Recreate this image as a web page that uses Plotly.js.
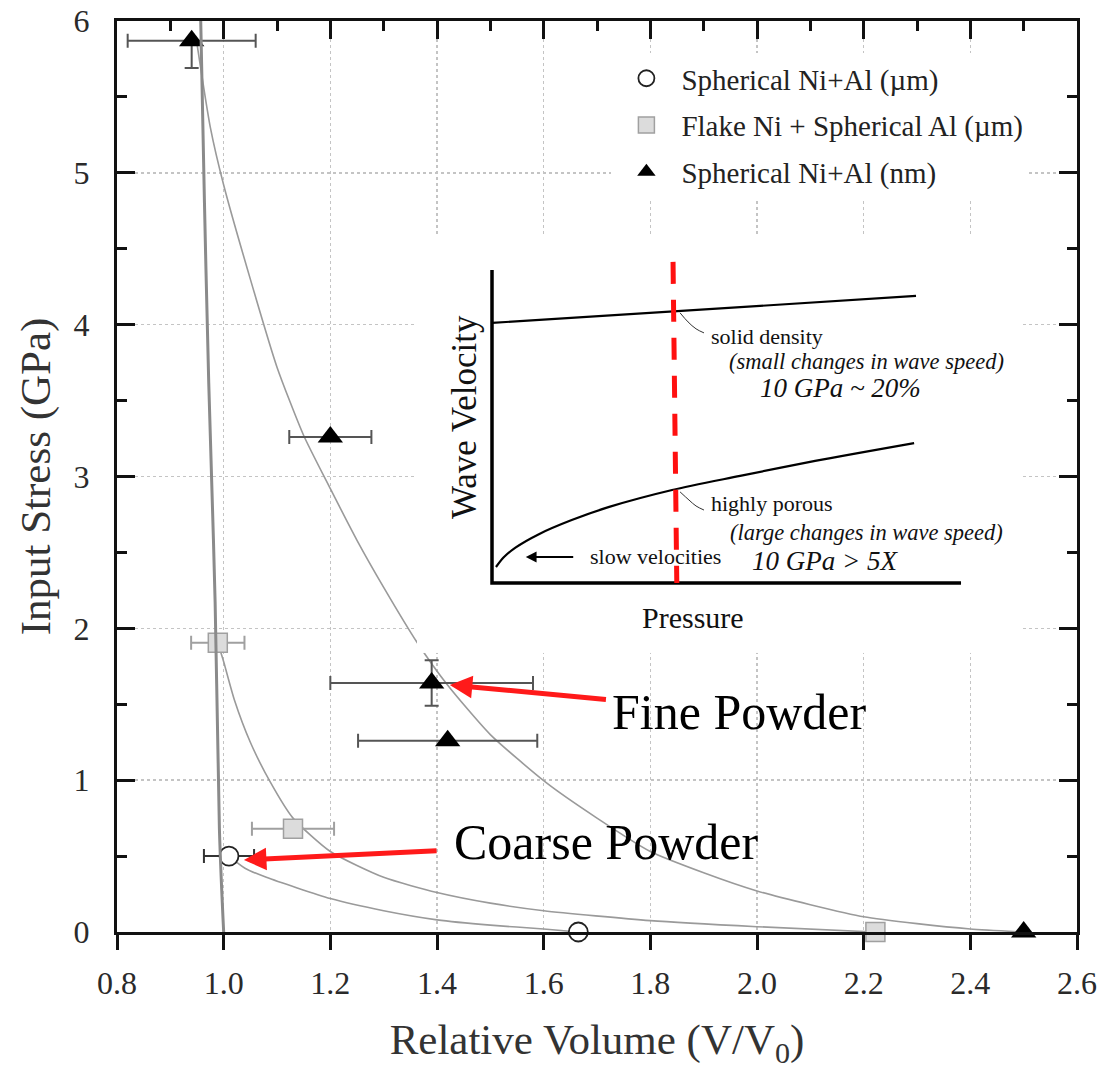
<!DOCTYPE html>
<html><head><meta charset="utf-8">
<script src="https://cdn.plot.ly/plotly-3.0.1.min.js"></script>
<style>body{margin:0;background:#fff}#chart{width:1102px;height:1073px}</style>
</head><body><div id="chart"></div>
<script>
// ---- main chart data ----
const xTickVals = [0.8, 1.0, 1.2, 1.4, 1.6, 1.8, 2.0, 2.2, 2.4, 2.6];
const yTickVals = [0, 1, 2, 3, 4, 5, 6];

const seriesNames = ["Spherical Ni+Al (\u00b5m)", "Flake Ni + Spherical Al (\u00b5m)", "Spherical Ni+Al (nm)"];

const circV = [1.01, 1.665];
const circP = [0.5, 0];
const circVerr = [0.047, 0];

const sqV = [0.989, 1.13, 2.222];
const sqP = [1.905, 0.68, 0];
const sqVerr = [0.05, 0.077, 0];

const triV = [0.94, 1.2, 1.39, 1.42, 2.5];
const triP = [5.87, 3.26, 1.64, 1.26, 0];
const triVerr = [0.12, 0.077, 0.19, 0.168, 0];
const triPerrPlus = [0, 0, 0.15, 0, 0];
const triPerrMinus = [0.18, 0, 0.15, 0, 0];

// fitted curves
const solidV = [0.957, 0.964, 0.972, 0.984, 0.992, 1.0];
const solidP = [6.0, 4.8, 3.62, 2.17, 0.68, 0];
const fineV = [0.95, 0.975, 1.0, 1.05, 1.1, 1.15, 1.2, 1.25, 1.3, 1.364, 1.419, 1.5, 1.606, 1.7, 1.8, 1.9, 2.0, 2.1, 2.2, 2.3, 2.4, 2.5];
const fineP = [5.85, 5.3, 4.92, 4.3, 3.72, 3.27, 2.92, 2.58, 2.27, 1.9, 1.63, 1.3, 0.98, 0.75, 0.53, 0.39, 0.27, 0.18, 0.1, 0.055, 0.02, 0];
const flakeV = [0.989, 1.0, 1.02, 1.05, 1.087, 1.13, 1.2, 1.3, 1.4, 1.5, 1.6, 1.8, 2.0, 2.22];
const flakeP = [1.905, 1.78, 1.53, 1.25, 0.99, 0.75, 0.53, 0.36, 0.26, 0.19, 0.14, 0.075, 0.035, 0];
const coarseV = [1.01, 1.04, 1.08, 1.2, 1.3, 1.4, 1.5, 1.6, 1.665];
const coarseP = [0.5, 0.42, 0.36, 0.22, 0.14, 0.08, 0.045, 0.02, 0];

// ---- inset (schematic) data ----
const insetAxisX = [0, 0, 100];
const insetAxisY = [100, 0, 0];
const solidDensX = [0, 90.4];
const solidDensY = [83.1, 91.7];
const porousX = [0.85, 2.5, 5, 10, 17, 25, 38.4, 52.9, 68.9, 90.0];
const porousY = [5.1, 8.2, 11.3, 15.6, 20.1, 24.3, 29.7, 34.2, 39.0, 44.7];
const dashX = [38.6, 39.4];
const dashY = [102.6, 0];
const lead1X = [40.1, 41.8, 43.5, 45.2];
const lead1Y = [86.3, 83.4, 81.2, 79.9];
const lead2X = [40.1, 42.0, 43.5, 45.2];
const lead2Y = [29.1, 26.5, 24.6, 23.3];

const SERIF = "Liberation Serif";
const curveLine = {color: '#9a9a9a', width: 1.6, shape: 'spline', smoothing: 0.6};

const traces = [
  {x: fineV, y: fineP, mode: 'lines', line: curveLine, showlegend: false, hoverinfo: 'skip'},
  {x: flakeV, y: flakeP, mode: 'lines', line: curveLine, showlegend: false, hoverinfo: 'skip'},
  {x: coarseV, y: coarseP, mode: 'lines', line: curveLine, showlegend: false, hoverinfo: 'skip'},
  {x: solidV, y: solidP, xaxis: 'x3', mode: 'lines', line: {color: '#8a8a8a', width: 3, shape: 'spline'}, showlegend: false, hoverinfo: 'skip'},
  {x: circV, y: circP, name: seriesNames[0], mode: 'markers', cliponaxis: false, legendgroup: 'a',
   marker: {symbol: 'circle', size: 19, color: '#ffffff', line: {color: '#222', width: 1.8}},
   error_x: {type: 'data', array: circVerr, color: '#333', thickness: 2, width: 7}},
  {x: sqV, y: sqP, name: seriesNames[1], mode: 'markers', cliponaxis: false, legendgroup: 'b',
   marker: {symbol: 'square', size: 19, color: '#dcdcdc', line: {color: '#a0a0a0', width: 1.5}},
   error_x: {type: 'data', array: sqVerr, color: '#a0a0a0', thickness: 2, width: 7}},
  {x: triV, y: triP, name: seriesNames[2], mode: 'markers', cliponaxis: false, legendgroup: 'c',
   marker: {symbol: 'triangle-up', size: 22, color: '#000000', line: {width: 0}},
   error_x: {type: 'data', array: triVerr, color: '#555', thickness: 2, width: 7},
   error_y: {type: 'data', symmetric: false, array: triPerrPlus, arrayminus: triPerrMinus, color: '#555', thickness: 2, width: 7}},
  // inset
  {x: insetAxisX, y: insetAxisY, xaxis: 'x2', yaxis: 'y2', mode: 'lines', line: {color: '#000', width: 3.5}, showlegend: false, hoverinfo: 'skip'},
  {x: solidDensX, y: solidDensY, xaxis: 'x2', yaxis: 'y2', mode: 'lines', line: {color: '#000', width: 2.2}, showlegend: false, hoverinfo: 'skip'},
  {x: porousX, y: porousY, xaxis: 'x2', yaxis: 'y2', mode: 'lines', line: {color: '#000', width: 2.2, shape: 'spline', smoothing: 0.8}, showlegend: false, hoverinfo: 'skip'},
  {x: lead1X, y: lead1Y, xaxis: 'x2', yaxis: 'y2', mode: 'lines', line: {color: '#333', width: 1, shape: 'spline'}, showlegend: false, hoverinfo: 'skip'},
  {x: lead2X, y: lead2Y, xaxis: 'x2', yaxis: 'y2', mode: 'lines', line: {color: '#333', width: 1, shape: 'spline'}, showlegend: false, hoverinfo: 'skip'},
  {x: dashX, y: dashY, xaxis: 'x2', yaxis: 'y2', mode: 'lines', cliponaxis: false, line: {color: '#ff1010', width: 5, dash: '22px,16px'}, showlegend: false, hoverinfo: 'skip'}
];

const hiddenAx = {showgrid: false, zeroline: false, showticklabels: false, ticks: '', showline: false, fixedrange: true};

const layout = {
  width: 1102, height: 1073,
  margin: {l: 117, r: 25, t: 21, b: 141},
  paper_bgcolor: '#ffffff', plot_bgcolor: '#ffffff',
  font: {family: SERIF, color: '#222'},
  showlegend: true,
  legend: {x: 0.515, xanchor: 'left', y: 0.965, yanchor: 'top', bgcolor: '#ffffff', borderwidth: 0,
           font: {family: SERIF, size: 29, color: '#222'}, tracegroupgap: 6, itemwidth: 60},
  xaxis: {range: [0.8, 2.6], domain: [0, 1], tickvals: xTickVals, ticktext: xTickVals.map(v => v.toFixed(1)),
          ticks: 'outside', ticklen: 15, tickwidth: 3, tickcolor: '#111',
          showline: true, linewidth: 3, linecolor: '#111', mirror: true,
          showgrid: true, gridcolor: '#c4c4c4', gridwidth: 1.5, griddash: 'dot', zeroline: false,
          tickfont: {family: SERIF, size: 32, color: '#2a2a2a'}, ticklabelstandoff: 6,
          title: {text: 'Relative Volume (V/V<sub>0</sub>)', font: {family: SERIF, size: 43, color: '#333'}, standoff: 24}},
  xaxis3: {range: [0.8, 2.6], overlaying: 'x', side: 'top', anchor: 'y', tickvals: xTickVals, showticklabels: false,
           ticks: 'inside', ticklen: 18, tickwidth: 3, tickcolor: '#111', showline: false, showgrid: false, zeroline: false,
           minor: {dtick: 0.1, tick0: 0.8, ticks: 'inside', ticklen: 10, tickwidth: 3, tickcolor: '#111', showgrid: false}},
  yaxis: {range: [0, 6], domain: [0, 1], tickvals: yTickVals,
          ticks: 'inside', ticklen: 18, tickwidth: 3, tickcolor: '#111',
          minor: {dtick: 0.5, tick0: 0, ticks: 'inside', ticklen: 10, tickwidth: 3, tickcolor: '#111', showgrid: false},
          showline: true, linewidth: 3, linecolor: '#111', mirror: 'ticks',
          showgrid: true, gridcolor: '#c4c4c4', gridwidth: 1.5, griddash: 'dot', zeroline: false,
          tickfont: {family: SERIF, size: 32, color: '#2a2a2a'}, ticklabelstandoff: 18,
          title: {text: 'Input Stress (GPa)', font: {family: SERIF, size: 43, color: '#333'}, standoff: 10}},
  xaxis2: Object.assign({range: [-15.99, 113.0], domain: [0.3125, 0.9427], anchor: 'y2'}, hiddenAx),
  yaxis2: Object.assign({range: [-22.36, 110.54], domain: [0.3063, 0.7629], anchor: 'x2'}, hiddenAx),
  annotations: [
    // inset texts
    {xref: 'x2', yref: 'y2', x: 46.3, y: 78.8, xanchor: 'left', yanchor: 'middle', showarrow: false,
     text: 'solid density', font: {family: SERIF, size: 22, color: '#111'}},
    {xref: 'x2', yref: 'y2', x: 79.8, y: 70.8, xanchor: 'center', yanchor: 'middle', showarrow: false,
     text: '<i>(small changes in wave speed)</i>', font: {family: SERIF, size: 22.5, color: '#111'}},
    {xref: 'x2', yref: 'y2', x: 74.2, y: 62.3, xanchor: 'center', yanchor: 'middle', showarrow: false,
     text: '<i>10 GPa ~ 20%</i>', font: {family: SERIF, size: 27, color: '#111'}},
    {xref: 'x2', yref: 'y2', x: 46.3, y: 25.3, xanchor: 'left', yanchor: 'middle', showarrow: false,
     text: 'highly porous', font: {family: SERIF, size: 22, color: '#111'}},
    {xref: 'x2', yref: 'y2', x: 79.8, y: 16.0, xanchor: 'center', yanchor: 'middle', showarrow: false,
     text: '<i>(large changes in wave speed)</i>', font: {family: SERIF, size: 22.5, color: '#111'}},
    {xref: 'x2', yref: 'y2', x: 71.0, y: 7.1, xanchor: 'center', yanchor: 'middle', showarrow: false,
     text: '<i>10 GPa &gt; 5X</i>', font: {family: SERIF, size: 27, color: '#111'}},
    {xref: 'x2', yref: 'y2', x: 7.2, y: 8.3, axref: 'x2', ayref: 'y2', ax: 34.8, ay: 8.3,
     text: 'slow velocities', font: {family: SERIF, size: 22, color: '#111'},
     showarrow: true, arrowhead: 2, arrowsize: 1.2, arrowwidth: 1.8, arrowcolor: '#000', standoff: 0, startstandoff: 15},
    {xref: 'x2', yref: 'y2', x: -5.97, y: 53.0, xanchor: 'center', yanchor: 'middle', showarrow: false, textangle: -90,
     text: 'Wave Velocity', font: {family: SERIF, size: 35, color: '#111'}},
    {xref: 'x2', yref: 'y2', x: 42.9, y: -10.9, xanchor: 'center', yanchor: 'middle', showarrow: false,
     text: 'Pressure', font: {family: SERIF, size: 30, color: '#111'}},
    // callouts with red arrows
    {xref: 'x', yref: 'y', x: 1.424, y: 1.627, axref: 'x', ayref: 'y', ax: 1.968, ay: 1.45,
     text: 'Fine Powder', font: {family: SERIF, size: 50, color: '#000'},
     showarrow: true, arrowhead: 2, arrowsize: 0.9, arrowwidth: 5, arrowcolor: '#ff1a1a', standoff: 0, startstandoff: 5},
    {xref: 'x', yref: 'y', x: 1.038, y: 0.474, axref: 'x', ayref: 'y', ax: 1.717, ay: 0.59,
     text: 'Coarse Powder', font: {family: SERIF, size: 50, color: '#000'},
     showarrow: true, arrowhead: 2, arrowsize: 0.9, arrowwidth: 5, arrowcolor: '#ff1a1a', standoff: 0, startstandoff: 16}
  ]
};

Plotly.newPlot('chart', traces, layout, {staticPlot: true, displayModeBar: false}).then(function () {
  // drop empty placeholder text nodes (e.g. untitled helper axes)
  document.querySelectorAll('#chart text').forEach(function (t) {
    if (!t.textContent.trim()) t.remove();
  });
});
</script>
</body></html>
